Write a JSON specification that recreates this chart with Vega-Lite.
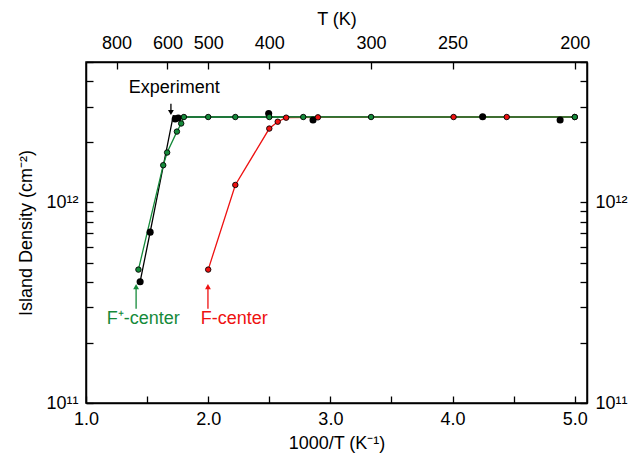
{
  "$schema": "https://vega.github.io/schema/vega-lite/v6.json",
  "width": 501,
  "height": 341,
  "autosize": "none",
  "padding": {"left": 86, "top": 62, "right": 51, "bottom": 53},
  "config": {
    "font": "Liberation Sans",
    "view": {"stroke": "black", "strokeWidth": 1.5},
    "axis": {
      "domainColor": "black", "domainWidth": 1.5,
      "tickColor": "black", "tickWidth": 1.3, "tickSize": -7,
      "labelFont": "Liberation Sans", "labelFontSize": 18, "labelColor": "black",
      "titleFont": "Liberation Sans", "titleFontSize": 18, "titleFontWeight": "normal", "titleColor": "black",
      "grid": false, "labelFlush": false, "labelOverlap": false
    }
  },
  "datasets": {
    "lines": [
      {"series": "Experiment", "ord": 1, "x": 1.443, "y": 4.02e11},
      {"series": "Experiment", "ord": 2, "x": 1.525, "y": 7.1e11},
      {"series": "Experiment", "ord": 3, "x": 1.714, "y": 2.70e12},
      {"series": "Experiment", "ord": 4, "x": 1.80, "y": 2.66e12},
      {"series": "Experiment", "ord": 5, "x": 5.0, "y": 2.66e12},
      {"series": "F-center", "ord": 1, "x": 2.0, "y": 4.62e11},
      {"series": "F-center", "ord": 2, "x": 2.222, "y": 1.22e12},
      {"series": "F-center", "ord": 3, "x": 2.5, "y": 2.33e12},
      {"series": "F-center", "ord": 4, "x": 2.569, "y": 2.52e12},
      {"series": "F-center", "ord": 5, "x": 2.638, "y": 2.64e12},
      {"series": "F-center", "ord": 6, "x": 2.898, "y": 2.65e12},
      {"series": "F-center", "ord": 7, "x": 4.008, "y": 2.66e12},
      {"series": "F-center", "ord": 8, "x": 4.443, "y": 2.66e12},
      {"series": "F-center", "ord": 9, "x": 5.0, "y": 2.66e12},
      {"series": "F⁺-center", "ord": 1, "x": 1.429, "y": 4.62e11},
      {"series": "F⁺-center", "ord": 2, "x": 1.632, "y": 1.53e12},
      {"series": "F⁺-center", "ord": 3, "x": 1.664, "y": 1.77e12},
      {"series": "F⁺-center", "ord": 4, "x": 1.744, "y": 2.25e12},
      {"series": "F⁺-center", "ord": 5, "x": 1.779, "y": 2.47e12},
      {"series": "F⁺-center", "ord": 6, "x": 1.801, "y": 2.66e12},
      {"series": "F⁺-center", "ord": 7, "x": 2.0, "y": 2.66e12},
      {"series": "F⁺-center", "ord": 8, "x": 2.222, "y": 2.66e12},
      {"series": "F⁺-center", "ord": 9, "x": 2.5, "y": 2.66e12},
      {"series": "F⁺-center", "ord": 10, "x": 2.778, "y": 2.66e12},
      {"series": "F⁺-center", "ord": 11, "x": 3.333, "y": 2.66e12},
      {"series": "F⁺-center", "ord": 12, "x": 5.0, "y": 2.66e12}
    ],
    "expPoints": [
      {"x": 1.443, "y": 4.02e11},
      {"x": 1.525, "y": 7.1e11},
      {"x": 1.73, "y": 2.60e12},
      {"x": 1.755, "y": 2.63e12},
      {"x": 2.495, "y": 2.77e12},
      {"x": 2.858, "y": 2.57e12},
      {"x": 4.246, "y": 2.67e12},
      {"x": 4.88, "y": 2.57e12}
    ],
    "arrows": [
      {"series": "Experiment", "x": 1.695, "y": 3.10e12, "y2": 2.80e12},
      {"series": "F⁺-center", "x": 1.41, "y": 2.95e11, "y2": 3.80e11},
      {"series": "F-center", "x": 1.998, "y": 2.95e11, "y2": 3.80e11}
    ],
    "labels": [
      {"series": "Experiment", "label": "Experiment", "x": 1.722, "y": 3.71e12},
      {"series": "F⁺-center", "label": "F⁺-center", "x": 1.468, "y": 2.61e11},
      {"series": "F-center", "label": "F-center", "x": 2.214, "y": 2.61e11}
    ]
  },
  "resolve": {"axis": {"x": "independent", "y": "independent"}},
  "layer": [
    {
      "data": {"name": "lines"},
      "mark": {"type": "line", "strokeWidth": 1.3},
      "encoding": {
        "x": {"field": "x", "type": "quantitative",
              "scale": {"domain": [1, 5.1], "nice": false, "zero": false},
              "axis": {"orient": "bottom", "title": "1000/T (K⁻¹)", "values": [1, 1.5, 2, 2.5, 3, 3.5, 4, 4.5, 5],
                       "labelExpr": "datum.value % 1 == 0 ? format(datum.value, '.1f') : ''",
                       "labelPadding": 14, "titlePadding": 6}},
        "y": {"field": "y", "type": "quantitative",
              "scale": {"type": "log", "domain": [1e11, 5e12], "nice": false},
              "axis": {"orient": "left", "title": "Island Density (cm⁻²)",
                       "values": [1e11, 2e11, 3e11, 4e11, 5e11, 6e11, 7e11, 8e11, 9e11, 1e12, 2e12, 3e12, 4e12, 5e12],
                       "labelExpr": "datum.value == 1e11 ? '10¹¹' : (datum.value == 1e12 ? '10¹²' : '')",
                       "labelPadding": 15, "titlePadding": 10}},
        "color": {"field": "series", "type": "nominal",
                  "scale": {"domain": ["Experiment", "F-center", "F⁺-center"], "range": ["#000000", "#ee1111", "#158a3a"]},
                  "legend": null},
        "order": {"field": "ord", "type": "quantitative"}
      }
    },
    {
      "data": {"name": "expPoints"},
      "mark": {"type": "point", "shape": "circle", "filled": true, "size": 50, "color": "black", "opacity": 1},
      "encoding": {
        "x": {"field": "x", "type": "quantitative",
              "axis": {"orient": "top", "title": "T (K)", "values": [1.25, 1.6667, 2, 2.5, 3.3333, 4, 5],
                       "labelExpr": "format(1000 / datum.value, '.0f')",
                       "labelPadding": 17, "titlePadding": 6}},
        "y": {"field": "y", "type": "quantitative",
              "axis": {"orient": "right", "title": null,
                       "values": [1e11, 2e11, 3e11, 4e11, 5e11, 6e11, 7e11, 8e11, 9e11, 1e12, 2e12, 3e12, 4e12, 5e12],
                       "labelExpr": "datum.value == 1e11 ? '10¹¹' : (datum.value == 1e12 ? '10¹²' : '')",
                       "labelPadding": 15}}
      }
    },
    {
      "data": {"name": "lines"},
      "transform": [{"filter": "datum.series != 'Experiment'"}],
      "mark": {"type": "point", "shape": "circle", "filled": true, "size": 30, "stroke": "black", "strokeWidth": 0.9, "opacity": 1},
      "encoding": {
        "x": {"field": "x", "type": "quantitative", "axis": null},
        "y": {"field": "y", "type": "quantitative", "axis": null},
        "fill": {"field": "series", "type": "nominal",
                 "scale": {"domain": ["Experiment", "F-center", "F⁺-center"], "range": ["#000000", "#ee1111", "#158a3a"]},
                 "legend": null}
      }
    },
    {
      "data": {"name": "arrows"},
      "mark": {"type": "rule", "strokeWidth": 1.3},
      "encoding": {
        "x": {"field": "x", "type": "quantitative", "axis": null},
        "y": {"field": "y", "type": "quantitative", "axis": null},
        "y2": {"field": "y2"},
        "color": {"field": "series", "type": "nominal", "legend": null}
      }
    },
    {
      "data": {"name": "arrows"},
      "mark": {"type": "point", "filled": true, "size": 34, "opacity": 1},
      "encoding": {
        "x": {"field": "x", "type": "quantitative", "axis": null},
        "y": {"field": "y2", "type": "quantitative", "axis": null},
        "color": {"field": "series", "type": "nominal", "legend": null},
        "shape": {"field": "series", "type": "nominal",
                  "scale": {"domain": ["Experiment", "F-center", "F⁺-center"], "range": ["triangle-down", "triangle-up", "triangle-up"]},
                  "legend": null}
      }
    },
    {
      "data": {"name": "labels"},
      "mark": {"type": "text", "fontSize": 18, "font": "Liberation Sans", "baseline": "middle", "align": "center"},
      "encoding": {
        "x": {"field": "x", "type": "quantitative", "axis": null},
        "y": {"field": "y", "type": "quantitative", "axis": null},
        "text": {"field": "label"},
        "color": {"field": "series", "type": "nominal", "legend": null}
      }
    }
  ]
}
